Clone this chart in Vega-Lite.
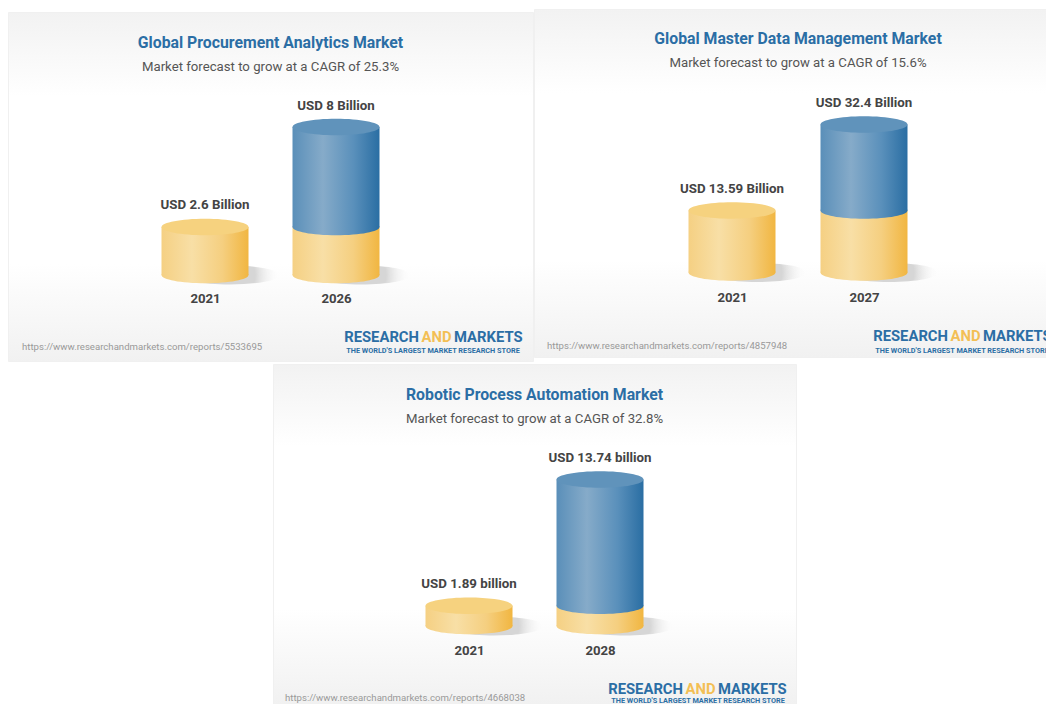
{"$schema":"https://vega.github.io/schema/vega-lite/v6.json","background":"white","padding":{"left":7,"top":8,"right":0,"bottom":0},"autosize":{"type":"pad"},"spacing":1,"config":{"font":"Roboto","concat":{"spacing":0},"view":{"stroke":"#f0f0f0","fill":{"gradient":"linear","x1":0,"x2":0,"y1":0,"y2":1,"stops":[{"offset":0,"color":"#f2f2f2"},{"offset":0.24,"color":"#ffffff"},{"offset":0.72,"color":"#ffffff"},{"offset":1,"color":"#f1f1f1"}]}},"title":{"font":"Roboto","fontSize":15.8,"fontWeight":"bold","color":"#2b6ea5","subtitleFont":"Roboto","subtitleFontSize":13.2,"subtitleColor":"#555555","subtitlePadding":9,"anchor":"middle","frame":"group"}},"datasets":{"a":[{"year":"2021","value":2.6,"start":2.6,"label":"USD 2.6 Billion"},{"year":"2026","value":8,"start":2.6,"label":"USD 8 Billion"}],"b":[{"year":"2021","value":13.59,"start":13.59,"label":"USD 13.59 Billion"},{"year":"2027","value":32.4,"start":13.59,"label":"USD 32.4 Billion"}],"c":[{"year":"2021","value":1.89,"start":1.89,"label":"USD 1.89 billion"},{"year":"2028","value":13.74,"start":1.89,"label":"USD 13.74 billion"}]},"vconcat":[{"spacing":-2,"hconcat":[{"spacing":0,"vconcat":[{"width":525,"height":2,"view":{"stroke":null,"fill":null},"data":{"values":[{"s":""}]},"mark":{"type":"text","opacity":0,"fontSize":0.1},"encoding":{"text":{"field":"s"}}},{"width":525,"height":349,"title":{"text":"Global Procurement Analytics Market","subtitle":"Market forecast to grow at a CAGR of 25.3%","offset":-62},"data":{"name":"a"},"encoding":{"x":{"field":"year","type":"nominal","scale":{"type":"point","padding":0,"range":[197,328]},"axis":{"title":null,"domain":false,"ticks":false,"grid":false,"labelAngle":0,"labelFont":"Roboto","labelFontSize":13.2,"labelFontWeight":"bold","labelColor":"#444444","labelPadding":0,"offset":-69}},"y":{"field":"value","type":"quantitative","scale":{"domain":[0,8],"range":[263,115],"nice":false,"zero":false},"axis":null}},"layer":[{"mark":{"type":"point","filled":true,"opacity":1,"strokeWidth":0,"size":10000,"xOffset":25,"shape":"M-1,0 C-1,-0.105 -0.552,-0.19 0,-0.19 C0.552,-0.19 1,-0.105 1,0 C1,0.105 0.552,0.19 0,0.19 C-0.552,0.19 -1,0.105 -1,0 Z","fill":{"gradient":"radial","stops":[{"offset":0.5,"color":"#d6d6d6"},{"offset":1,"color":"rgba(255,255,255,0)"}]}},"encoding":{"y":{"datum":0}}},{"mark":{"type":"point","filled":true,"opacity":1,"strokeWidth":0,"size":7569,"shape":"M-1,0 C-1,-0.105 -0.552,-0.19 0,-0.19 C0.552,-0.19 1,-0.105 1,0 C1,0.105 0.552,0.19 0,0.19 C-0.552,0.19 -1,0.105 -1,0 Z","fill":{"gradient":"linear","x1":0,"x2":1,"y1":0,"y2":0,"stops":[{"offset":0,"color":"#f5d083"},{"offset":0.35,"color":"#f8dfa6"},{"offset":0.7,"color":"#f5cf80"},{"offset":1,"color":"#f1b641"}]}},"encoding":{"y":{"datum":0}}},{"mark":{"type":"bar","size":87,"fill":{"gradient":"linear","x1":0,"x2":1,"y1":0,"y2":0,"stops":[{"offset":0,"color":"#f5d083"},{"offset":0.35,"color":"#f8dfa6"},{"offset":0.7,"color":"#f5cf80"},{"offset":1,"color":"#f1b641"}]}},"encoding":{"y":{"field":"start"},"y2":{"datum":0}}},{"transform":[{"filter":"datum.value == datum.start"}],"mark":{"type":"point","filled":true,"opacity":1,"strokeWidth":0,"size":7569,"shape":"M-1,0 C-1,-0.105 -0.552,-0.19 0,-0.19 C0.552,-0.19 1,-0.105 1,0 C1,0.105 0.552,0.19 0,0.19 C-0.552,0.19 -1,0.105 -1,0 Z","fill":"#f6d27f"}},{"transform":[{"filter":"datum.value > datum.start"}],"mark":{"type":"point","filled":true,"opacity":1,"strokeWidth":0,"size":7569,"shape":"M-1,0 C-1,-0.105 -0.552,-0.19 0,-0.19 C0.552,-0.19 1,-0.105 1,0 C1,0.105 0.552,0.19 0,0.19 C-0.552,0.19 -1,0.105 -1,0 Z","fill":{"gradient":"linear","x1":0,"x2":1,"y1":0,"y2":0,"stops":[{"offset":0,"color":"#5a8fb9"},{"offset":0.35,"color":"#86abc9"},{"offset":0.7,"color":"#5a90bb"},{"offset":1,"color":"#2a6ea3"}]}},"encoding":{"y":{"field":"start"}}},{"transform":[{"filter":"datum.value > datum.start"}],"mark":{"type":"bar","size":87,"fill":{"gradient":"linear","x1":0,"x2":1,"y1":0,"y2":0,"stops":[{"offset":0,"color":"#5a8fb9"},{"offset":0.35,"color":"#86abc9"},{"offset":0.7,"color":"#5a90bb"},{"offset":1,"color":"#2a6ea3"}]}},"encoding":{"y":{"field":"value"},"y2":{"field":"start"}}},{"transform":[{"filter":"datum.value > datum.start"}],"mark":{"type":"point","filled":true,"opacity":1,"strokeWidth":0,"size":7569,"shape":"M-1,0 C-1,-0.105 -0.552,-0.19 0,-0.19 C0.552,-0.19 1,-0.105 1,0 C1,0.105 0.552,0.19 0,0.19 C-0.552,0.19 -1,0.105 -1,0 Z","fill":"#6093bb"}},{"mark":{"type":"text","dy":-21.5,"fontSize":13.3,"fontWeight":"bold","color":"#444444"},"encoding":{"text":{"field":"label"}}},{"data":{"values":[{"t":"https://www.researchandmarkets.com/reports/5533695"}]},"mark":{"type":"text","align":"left","fontSize":9.6,"color":"#999999"},"encoding":{"x":{"value":14},"y":{"value":335},"text":{"field":"t"}}},{"data":{"values":[{"t":"RESEARCH"}]},"mark":{"type":"text","align":"right","fontSize":14.8,"fontWeight":"bold","color":"#2b6ea5"},"encoding":{"x":{"value":411},"y":{"value":326},"text":{"field":"t"}}},{"data":{"values":[{"t":"AND"}]},"mark":{"type":"text","align":"center","fontSize":14.8,"fontWeight":"bold","color":"#f3bf55"},"encoding":{"x":{"value":428.5},"y":{"value":326},"text":{"field":"t"}}},{"data":{"values":[{"t":"MARKETS"}]},"mark":{"type":"text","align":"left","fontSize":14.8,"fontWeight":"bold","color":"#2b6ea5"},"encoding":{"x":{"value":446},"y":{"value":326},"text":{"field":"t"}}},{"data":{"values":[{"t":"THE WORLD'S LARGEST MARKET RESEARCH STORE"}]},"mark":{"type":"text","align":"center","fontSize":7.3,"fontWeight":"bold","color":"#2b6ea5"},"encoding":{"x":{"value":425},"y":{"value":339},"text":{"field":"t"}}}]}]},{"width":513,"height":348,"title":{"text":"Global Master Data Management Market","subtitle":"Market forecast to grow at a CAGR of 15.6%","offset":-61,"dx":7.5},"data":{"name":"b"},"encoding":{"x":{"field":"year","type":"nominal","scale":{"type":"point","padding":0,"range":[198,330]},"axis":{"title":null,"domain":false,"ticks":false,"grid":false,"labelAngle":0,"labelFont":"Roboto","labelFontSize":13.2,"labelFontWeight":"bold","labelColor":"#444444","labelPadding":0,"offset":-66}},"y":{"field":"value","type":"quantitative","scale":{"domain":[0,32.4],"range":[263.5,115.5],"nice":false,"zero":false},"axis":null}},"layer":[{"mark":{"type":"point","filled":true,"opacity":1,"strokeWidth":0,"size":10000,"xOffset":25,"shape":"M-1,0 C-1,-0.105 -0.552,-0.19 0,-0.19 C0.552,-0.19 1,-0.105 1,0 C1,0.105 0.552,0.19 0,0.19 C-0.552,0.19 -1,0.105 -1,0 Z","fill":{"gradient":"radial","stops":[{"offset":0.5,"color":"#d6d6d6"},{"offset":1,"color":"rgba(255,255,255,0)"}]}},"encoding":{"y":{"datum":0}}},{"mark":{"type":"point","filled":true,"opacity":1,"strokeWidth":0,"size":7569,"shape":"M-1,0 C-1,-0.105 -0.552,-0.19 0,-0.19 C0.552,-0.19 1,-0.105 1,0 C1,0.105 0.552,0.19 0,0.19 C-0.552,0.19 -1,0.105 -1,0 Z","fill":{"gradient":"linear","x1":0,"x2":1,"y1":0,"y2":0,"stops":[{"offset":0,"color":"#f5d083"},{"offset":0.35,"color":"#f8dfa6"},{"offset":0.7,"color":"#f5cf80"},{"offset":1,"color":"#f1b641"}]}},"encoding":{"y":{"datum":0}}},{"mark":{"type":"bar","size":87,"fill":{"gradient":"linear","x1":0,"x2":1,"y1":0,"y2":0,"stops":[{"offset":0,"color":"#f5d083"},{"offset":0.35,"color":"#f8dfa6"},{"offset":0.7,"color":"#f5cf80"},{"offset":1,"color":"#f1b641"}]}},"encoding":{"y":{"field":"start"},"y2":{"datum":0}}},{"transform":[{"filter":"datum.value == datum.start"}],"mark":{"type":"point","filled":true,"opacity":1,"strokeWidth":0,"size":7569,"shape":"M-1,0 C-1,-0.105 -0.552,-0.19 0,-0.19 C0.552,-0.19 1,-0.105 1,0 C1,0.105 0.552,0.19 0,0.19 C-0.552,0.19 -1,0.105 -1,0 Z","fill":"#f6d27f"}},{"transform":[{"filter":"datum.value > datum.start"}],"mark":{"type":"point","filled":true,"opacity":1,"strokeWidth":0,"size":7569,"shape":"M-1,0 C-1,-0.105 -0.552,-0.19 0,-0.19 C0.552,-0.19 1,-0.105 1,0 C1,0.105 0.552,0.19 0,0.19 C-0.552,0.19 -1,0.105 -1,0 Z","fill":{"gradient":"linear","x1":0,"x2":1,"y1":0,"y2":0,"stops":[{"offset":0,"color":"#5a8fb9"},{"offset":0.35,"color":"#86abc9"},{"offset":0.7,"color":"#5a90bb"},{"offset":1,"color":"#2a6ea3"}]}},"encoding":{"y":{"field":"start"}}},{"transform":[{"filter":"datum.value > datum.start"}],"mark":{"type":"bar","size":87,"fill":{"gradient":"linear","x1":0,"x2":1,"y1":0,"y2":0,"stops":[{"offset":0,"color":"#5a8fb9"},{"offset":0.35,"color":"#86abc9"},{"offset":0.7,"color":"#5a90bb"},{"offset":1,"color":"#2a6ea3"}]}},"encoding":{"y":{"field":"value"},"y2":{"field":"start"}}},{"transform":[{"filter":"datum.value > datum.start"}],"mark":{"type":"point","filled":true,"opacity":1,"strokeWidth":0,"size":7569,"shape":"M-1,0 C-1,-0.105 -0.552,-0.19 0,-0.19 C0.552,-0.19 1,-0.105 1,0 C1,0.105 0.552,0.19 0,0.19 C-0.552,0.19 -1,0.105 -1,0 Z","fill":"#6093bb"}},{"mark":{"type":"text","dy":-21.5,"fontSize":13.3,"fontWeight":"bold","color":"#444444"},"encoding":{"text":{"field":"label"}}},{"data":{"values":[{"t":"https://www.researchandmarkets.com/reports/4857948"}]},"mark":{"type":"text","align":"left","fontSize":9.6,"color":"#999999"},"encoding":{"x":{"value":13},"y":{"value":337},"text":{"field":"t"}}},{"data":{"values":[{"t":"RESEARCH"}]},"mark":{"type":"text","align":"right","fontSize":14.8,"fontWeight":"bold","color":"#2b6ea5"},"encoding":{"x":{"value":414},"y":{"value":328},"text":{"field":"t"}}},{"data":{"values":[{"t":"AND"}]},"mark":{"type":"text","align":"center","fontSize":14.8,"fontWeight":"bold","color":"#f3bf55"},"encoding":{"x":{"value":431.5},"y":{"value":328},"text":{"field":"t"}}},{"data":{"values":[{"t":"MARKETS"}]},"mark":{"type":"text","align":"left","clip":true,"fontSize":14.8,"fontWeight":"bold","color":"#2b6ea5"},"encoding":{"x":{"value":449},"y":{"value":328},"text":{"field":"t"}}},{"data":{"values":[{"t":"THE WORLD'S LARGEST MARKET RESEARCH STORE"}]},"mark":{"type":"text","align":"center","clip":true,"fontSize":7.3,"fontWeight":"bold","color":"#2b6ea5"},"encoding":{"x":{"value":428},"y":{"value":342},"text":{"field":"t"}}}]}]},{"hconcat":[{"width":264,"height":2,"view":{"stroke":null,"fill":null},"data":{"values":[{"s":""}]},"mark":{"type":"text","opacity":0,"fontSize":0.1},"encoding":{"text":{"field":"s"}}},{"width":523,"height":340,"title":{"text":"Robotic Process Automation Market","subtitle":"Market forecast to grow at a CAGR of 32.8%","offset":-62},"data":{"name":"c"},"encoding":{"x":{"field":"year","type":"nominal","scale":{"type":"point","padding":0,"range":[196,327]},"axis":{"title":null,"domain":false,"ticks":false,"grid":false,"labelAngle":0,"labelFont":"Roboto","labelFontSize":13.2,"labelFontWeight":"bold","labelColor":"#444444","labelPadding":0,"offset":-60}},"y":{"field":"value","type":"quantitative","scale":{"domain":[0,13.74],"range":[262,115.5],"nice":false,"zero":false},"axis":null}},"layer":[{"mark":{"type":"point","filled":true,"opacity":1,"strokeWidth":0,"size":10000,"xOffset":25,"shape":"M-1,0 C-1,-0.105 -0.552,-0.19 0,-0.19 C0.552,-0.19 1,-0.105 1,0 C1,0.105 0.552,0.19 0,0.19 C-0.552,0.19 -1,0.105 -1,0 Z","fill":{"gradient":"radial","stops":[{"offset":0.5,"color":"#d6d6d6"},{"offset":1,"color":"rgba(255,255,255,0)"}]}},"encoding":{"y":{"datum":0}}},{"mark":{"type":"point","filled":true,"opacity":1,"strokeWidth":0,"size":7569,"shape":"M-1,0 C-1,-0.105 -0.552,-0.19 0,-0.19 C0.552,-0.19 1,-0.105 1,0 C1,0.105 0.552,0.19 0,0.19 C-0.552,0.19 -1,0.105 -1,0 Z","fill":{"gradient":"linear","x1":0,"x2":1,"y1":0,"y2":0,"stops":[{"offset":0,"color":"#f5d083"},{"offset":0.35,"color":"#f8dfa6"},{"offset":0.7,"color":"#f5cf80"},{"offset":1,"color":"#f1b641"}]}},"encoding":{"y":{"datum":0}}},{"mark":{"type":"bar","size":87,"fill":{"gradient":"linear","x1":0,"x2":1,"y1":0,"y2":0,"stops":[{"offset":0,"color":"#f5d083"},{"offset":0.35,"color":"#f8dfa6"},{"offset":0.7,"color":"#f5cf80"},{"offset":1,"color":"#f1b641"}]}},"encoding":{"y":{"field":"start"},"y2":{"datum":0}}},{"transform":[{"filter":"datum.value == datum.start"}],"mark":{"type":"point","filled":true,"opacity":1,"strokeWidth":0,"size":7569,"shape":"M-1,0 C-1,-0.105 -0.552,-0.19 0,-0.19 C0.552,-0.19 1,-0.105 1,0 C1,0.105 0.552,0.19 0,0.19 C-0.552,0.19 -1,0.105 -1,0 Z","fill":"#f6d27f"}},{"transform":[{"filter":"datum.value > datum.start"}],"mark":{"type":"point","filled":true,"opacity":1,"strokeWidth":0,"size":7569,"shape":"M-1,0 C-1,-0.105 -0.552,-0.19 0,-0.19 C0.552,-0.19 1,-0.105 1,0 C1,0.105 0.552,0.19 0,0.19 C-0.552,0.19 -1,0.105 -1,0 Z","fill":{"gradient":"linear","x1":0,"x2":1,"y1":0,"y2":0,"stops":[{"offset":0,"color":"#5a8fb9"},{"offset":0.35,"color":"#86abc9"},{"offset":0.7,"color":"#5a90bb"},{"offset":1,"color":"#2a6ea3"}]}},"encoding":{"y":{"field":"start"}}},{"transform":[{"filter":"datum.value > datum.start"}],"mark":{"type":"bar","size":87,"fill":{"gradient":"linear","x1":0,"x2":1,"y1":0,"y2":0,"stops":[{"offset":0,"color":"#5a8fb9"},{"offset":0.35,"color":"#86abc9"},{"offset":0.7,"color":"#5a90bb"},{"offset":1,"color":"#2a6ea3"}]}},"encoding":{"y":{"field":"value"},"y2":{"field":"start"}}},{"transform":[{"filter":"datum.value > datum.start"}],"mark":{"type":"point","filled":true,"opacity":1,"strokeWidth":0,"size":7569,"shape":"M-1,0 C-1,-0.105 -0.552,-0.19 0,-0.19 C0.552,-0.19 1,-0.105 1,0 C1,0.105 0.552,0.19 0,0.19 C-0.552,0.19 -1,0.105 -1,0 Z","fill":"#6093bb"}},{"mark":{"type":"text","dy":-21.5,"fontSize":13.3,"fontWeight":"bold","color":"#444444"},"encoding":{"text":{"field":"label"}}},{"data":{"values":[{"t":"https://www.researchandmarkets.com/reports/4668038"}]},"mark":{"type":"text","align":"left","fontSize":9.6,"color":"#999999"},"encoding":{"x":{"value":12},"y":{"value":334},"text":{"field":"t"}}},{"data":{"values":[{"t":"RESEARCH"}]},"mark":{"type":"text","align":"right","fontSize":14.8,"fontWeight":"bold","color":"#2b6ea5"},"encoding":{"x":{"value":410},"y":{"value":326},"text":{"field":"t"}}},{"data":{"values":[{"t":"AND"}]},"mark":{"type":"text","align":"center","fontSize":14.8,"fontWeight":"bold","color":"#f3bf55"},"encoding":{"x":{"value":427.5},"y":{"value":326},"text":{"field":"t"}}},{"data":{"values":[{"t":"MARKETS"}]},"mark":{"type":"text","align":"left","fontSize":14.8,"fontWeight":"bold","color":"#2b6ea5"},"encoding":{"x":{"value":445},"y":{"value":326},"text":{"field":"t"}}},{"data":{"values":[{"t":"THE WORLD'S LARGEST MARKET RESEARCH STORE"}]},"mark":{"type":"text","align":"center","fontSize":7.3,"fontWeight":"bold","color":"#2b6ea5"},"encoding":{"x":{"value":425},"y":{"value":337},"text":{"field":"t"}}}]}]}]}
